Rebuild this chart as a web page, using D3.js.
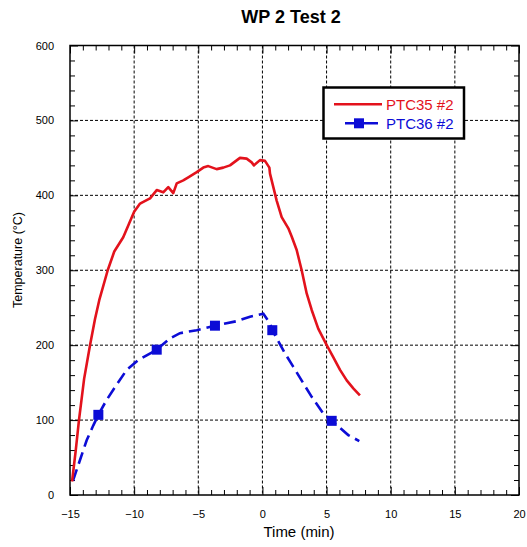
<!DOCTYPE html>
<html>
<head>
<meta charset="utf-8">
<script src="https://cdn.jsdelivr.net/npm/d3@7"></script>
<style>
  html, body { margin: 0; padding: 0; background: #fff; }
  svg { display: block; font-family: "Liberation Sans", Arial, sans-serif; }
</style>
</head>
<body>
<svg id="chart" width="527" height="547"></svg>
<script>
// ---- Data ----
const chartTitle = "WP 2 Test 2";
const xLabel = "Time (min)";
const yLabel = "Temperature (°C)";
const xTicks = [-15, -10, -5, 0, 5, 10, 15, 20];
const yTicks = [0, 100, 200, 300, 400, 500, 600];
const seriesNames = ["PTC35 #2", "PTC36 #2"];

const ptc35Time = [-14.84, -14.55, -14.30, -13.90, -13.44, -13.05, -12.72, -12.06, -11.55, -10.85,
  -10.40, -10.00, -9.54, -9.10,
  -8.76, -8.24, -7.73, -7.34, -6.95, -6.68, -6.17, -5.78, -5.12, -4.61,
  -4.22, -3.57, -3.05, -2.53, -1.75, -1.23, -0.84, -0.66, -0.19, 0.20,
  0.54, 0.59, 0.85, 1.11, 1.50, 2.02, 2.28, 2.67, 3.06, 3.45,
  3.84, 4.35, 5.01, 5.52, 6.05, 6.57, 7.10, 7.60];
const ptc35Temp = [18, 60, 100, 155, 200, 235, 260, 300, 325, 344,
  362, 378, 389, 393,
  396, 407, 404, 411, 403, 416, 420, 424, 431, 437,
  439, 435, 437, 440, 450, 449, 444, 440, 447, 446,
  437, 429, 411, 393, 371, 356, 345, 327, 300, 269,
  247, 222, 200, 184, 167, 153, 142, 133];

const ptc36Time = [-14.77, -13.70, -13.18, -12.79, -12.14, -11.49, -10.58, -9.68, -8.24, -7.21,
  -6.43, -5.12, -3.70, -2.01, -0.97, 0.07, 0.59, 0.77, 1.76, 2.41,
  3.84, 4.74, 5.40, 6.69, 7.55];
const ptc36Temp = [19, 73, 93, 107, 127, 144, 167, 180, 194, 209,
  216, 220, 226, 232, 238, 242, 229, 220, 189, 171,
  131, 109, 99, 80, 72];
const ptc36MarkerIdx = [3, 8, 12, 17, 22];

// ---- Layout ----
const svg = d3.select("#chart");
const x = d3.scaleLinear().domain([-15, 20]).range([70, 519]);
const y = d3.scaleLinear().domain([0, 600]).range([495, 45.5]);
const red = "#e3121c", blue = "#0c0cd6";

// gridlines
const grid = svg.append("g").attr("stroke", "#000").attr("stroke-width", 1)
  .attr("stroke-dasharray", "3,2");
grid.selectAll("line.gx").data(xTicks.slice(1, -1)).join("line")
  .attr("x1", d => x(d)).attr("x2", d => x(d))
  .attr("y1", y(600)).attr("y2", y(0));
grid.selectAll("line.gy").data(yTicks.slice(1, -1)).join("line")
  .attr("y1", d => y(d)).attr("y2", d => y(d))
  .attr("x1", x(-15)).attr("x2", x(20));

// axes (ticks inward, all four sides)
const xMinor = d3.range(-15, 20.01, 1).filter(v => !xTicks.includes(v));
const yMinor = d3.range(0, 600.01, 20).filter(v => !yTicks.includes(v));
function styleAxis(g) {
  g.select(".domain").remove();
  g.selectAll(".tick line").attr("stroke", "#000").attr("stroke-width", 1);
  g.selectAll("text").attr("fill", "#000").attr("font-size", 11)
    .attr("font-family", "Liberation Sans, Arial, sans-serif");
}
svg.append("g").attr("transform", `translate(0,${y(0)})`)
  .call(d3.axisBottom(x).tickValues(xTicks).tickSize(-8).tickPadding(15.5).tickFormat(d3.format("d")))
  .call(styleAxis);
svg.append("g").attr("transform", `translate(0,${y(0)})`)
  .call(d3.axisBottom(x).tickValues(xMinor).tickSize(-5).tickFormat(""))
  .call(styleAxis);
svg.append("g").attr("transform", `translate(0,${y(600)})`)
  .call(d3.axisTop(x).tickValues(xTicks).tickSize(-8).tickFormat(""))
  .call(styleAxis);
svg.append("g").attr("transform", `translate(0,${y(600)})`)
  .call(d3.axisTop(x).tickValues(xMinor).tickSize(-5).tickFormat(""))
  .call(styleAxis);
svg.append("g").attr("transform", `translate(${x(-15)},0)`)
  .call(d3.axisLeft(y).tickValues(yTicks).tickSize(-8).tickPadding(16).tickFormat(d3.format("d")))
  .call(styleAxis);
svg.append("g").attr("transform", `translate(${x(-15)},0)`)
  .call(d3.axisLeft(y).tickValues(yMinor).tickSize(-5).tickFormat(""))
  .call(styleAxis);
svg.append("g").attr("transform", `translate(${x(20)},0)`)
  .call(d3.axisRight(y).tickValues(yTicks).tickSize(-8).tickFormat(""))
  .call(styleAxis);
svg.append("g").attr("transform", `translate(${x(20)},0)`)
  .call(d3.axisRight(y).tickValues(yMinor).tickSize(-5).tickFormat(""))
  .call(styleAxis);

// frame
svg.append("rect")
  .attr("x", x(-15)).attr("y", y(600))
  .attr("width", x(20) - x(-15)).attr("height", y(0) - y(600))
  .attr("fill", "none").attr("stroke", "#000").attr("stroke-width", 1.5);

// series
const line = d3.line().x(d => x(d[0])).y(d => y(d[1]));
const d35 = ptc35Time.map((t, i) => [t, ptc35Temp[i]]);
const d36 = ptc36Time.map((t, i) => [t, ptc36Temp[i]]);

svg.append("path").datum(d36).attr("d", line)
  .attr("fill", "none").attr("stroke", blue).attr("stroke-width", 2.6)
  .attr("stroke-dasharray", "12,6");
svg.selectAll("rect.m36").data(ptc36MarkerIdx.map(i => d36[i])).join("rect")
  .attr("x", d => x(d[0]) - 5).attr("y", d => y(d[1]) - 5)
  .attr("width", 10).attr("height", 10).attr("fill", blue);

svg.append("path").datum(d35).attr("d", line)
  .attr("fill", "none").attr("stroke", red).attr("stroke-width", 2.6)
  .attr("stroke-linejoin", "round");

// title and labels
svg.append("text").attr("x", 291).attr("y", 23).attr("text-anchor", "middle")
  .attr("font-size", 18).attr("font-weight", "bold").text(chartTitle);
svg.append("text").attr("x", 299).attr("y", 536.5).attr("text-anchor", "middle")
  .attr("font-size", 15).text(xLabel);
svg.append("text").attr("transform", "translate(22,260) rotate(-90)")
  .attr("text-anchor", "middle").attr("font-size", 12.5).text(yLabel);

// legend
const lg = svg.append("g");
lg.append("rect").attr("x", 323.5).attr("y", 87.5).attr("width", 140.5).attr("height", 51)
  .attr("fill", "#fff").attr("stroke", "#000").attr("stroke-width", 2.5);
lg.append("line").attr("x1", 334).attr("x2", 382).attr("y1", 104.3).attr("y2", 104.3)
  .attr("stroke", red).attr("stroke-width", 2.6);
lg.append("text").attr("x", 386).attr("y", 109.5).attr("font-size", 15)
  .attr("fill", red).text(seriesNames[0]);
lg.append("line").attr("x1", 345).attr("x2", 378).attr("y1", 123.3).attr("y2", 123.3)
  .attr("stroke", blue).attr("stroke-width", 2.6);
lg.append("rect").attr("x", 354).attr("y", 118.3).attr("width", 10).attr("height", 10)
  .attr("fill", blue);
lg.append("text").attr("x", 386).attr("y", 128.5).attr("font-size", 15)
  .attr("fill", blue).text(seriesNames[1]);
</script>
</body>
</html>
